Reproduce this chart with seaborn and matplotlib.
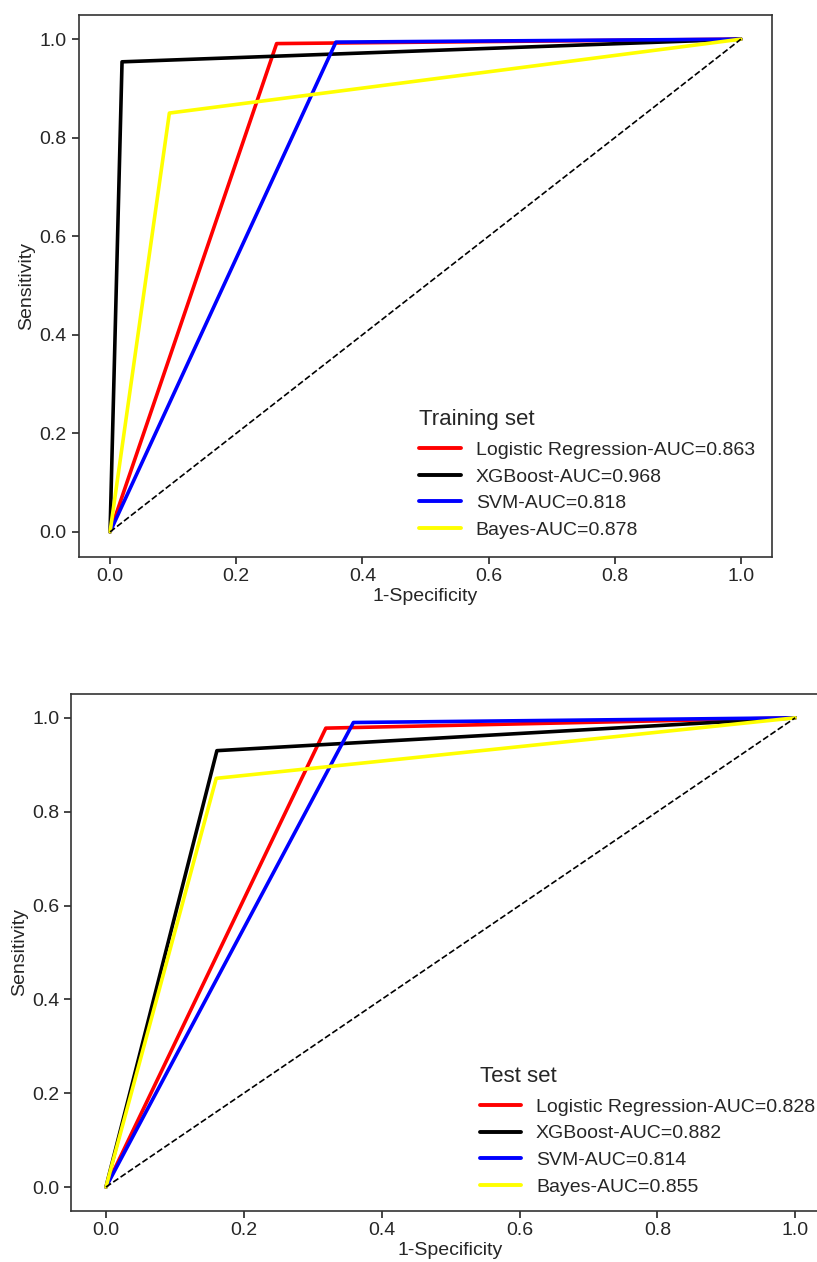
import pandas as pd
import matplotlib
matplotlib.use('Agg')
import matplotlib.pyplot as plt
import seaborn as sns

models = ['Logistic Regression', 'XGBoost', 'SVM', 'Bayes']
colors = ['red', 'black', 'blue', 'yellow']

# training set ROC points (fpr, tpr) and AUCs
train_fpr = [[0, 0.264, 1], [0, 0.019, 1], [0, 0.358, 1], [0, 0.094, 1]]
train_tpr = [[0, 0.991, 1], [0, 0.954, 1], [0, 0.994, 1], [0, 0.850, 1]]
train_auc = ['0.863', '0.968', '0.818', '0.878']

# test set
test_fpr = [[0, 0.319, 1], [0, 0.161, 1], [0, 0.359, 1], [0, 0.160, 1]]
test_tpr = [[0, 0.978, 1], [0, 0.930, 1], [0, 0.990, 1], [0, 0.871, 1]]
test_auc = ['0.828', '0.882', '0.814', '0.855']

sns.set_style('ticks')
plt.rcParams['font.family'] = ['Liberation Sans', 'DejaVu Sans']

fig = plt.figure(figsize=(8.17, 12.62), dpi=100)
ax1 = fig.add_axes([0.0961, 0.559, 0.8494, 0.4295])
ax2 = fig.add_axes([0.0875, 0.0408, 0.928, 0.409])


def make_df(fpr, tpr, auc):
    rows = []
    for m, f, t, a in zip(models, fpr, tpr, auc):
        for x, y in zip(f, t):
            rows.append({'model': f'{m}-AUC={a}', 'fpr': x, 'tpr': y})
    return pd.DataFrame(rows)


def draw(ax, fpr, tpr, auc, title, pad):
    df = make_df(fpr, tpr, auc)
    labels = [f'{m}-AUC={a}' for m, a in zip(models, auc)]
    sns.lineplot(data=df, x='fpr', y='tpr', hue='model', hue_order=labels,
                 palette=colors, sort=False, estimator=None, linewidth=2.6, ax=ax)
    ax.plot([0, 1], [0, 1], color='black', linestyle='--', linewidth=1.2)
    ax.set_xlim(-0.05, 1.05)
    ax.set_ylim(-0.05, 1.05)
    ax.set_xticks([0, 0.2, 0.4, 0.6, 0.8, 1.0])
    ax.set_yticks([0, 0.2, 0.4, 0.6, 0.8, 1.0])
    ax.set_xlabel('1-Specificity', fontsize=14, labelpad=2)
    ax.set_ylabel('Sensitivity', fontsize=14, labelpad=3)
    ax.tick_params(labelsize=14, length=5, width=1.2)
    for s in ax.spines.values():
        s.set_linewidth(1.2)
        s.set_color('#333333')
    leg = ax.legend(title=title, loc='lower right', frameon=False, fontsize=14,
                    title_fontsize=16, handlelength=2.15, handletextpad=0.75,
                    labelspacing=0.47, borderaxespad=pad)
    leg._legend_box.align = 'left'
    leg._legend_box.sep = 8
    for line in leg.get_lines():
        line.set_linewidth(2.8)


draw(ax1, train_fpr, train_tpr, train_auc, 'Training set', 0.5)
draw(ax2, test_fpr, test_tpr, test_auc, 'Test set', 0.35)

fig.savefig('out.png', dpi=100)
